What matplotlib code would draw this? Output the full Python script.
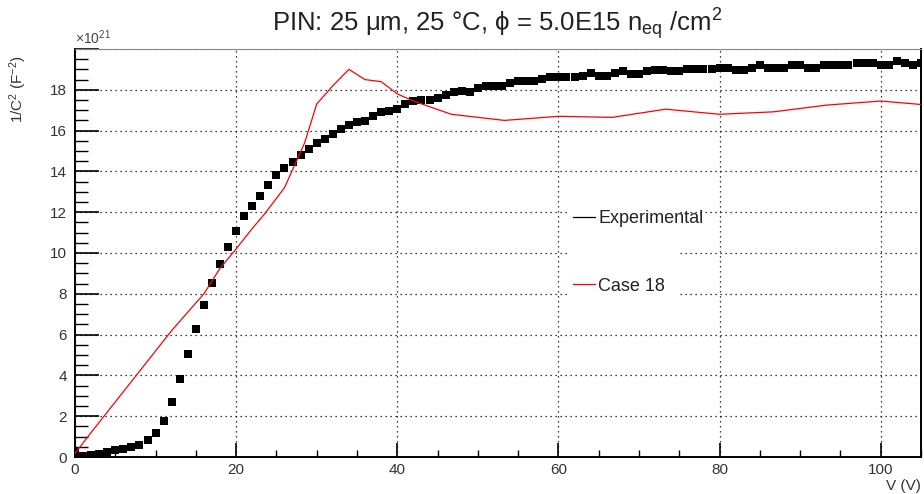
import numpy as np
import matplotlib
matplotlib.use('Agg')
import matplotlib.pyplot as plt
from matplotlib.lines import Line2D
from matplotlib.patches import Rectangle
from matplotlib.ticker import MultipleLocator, FuncFormatter

plt.rcParams['font.family'] = ['Liberation Sans', 'DejaVu Sans']
plt.rcParams['mathtext.fontset'] = 'custom'
plt.rcParams['mathtext.rm'] = 'Liberation Sans'
plt.rcParams['mathtext.it'] = 'Liberation Sans:italic'

# measured points, 1/C^2 in units of 1e21 F^-2
exp_v = np.arange(0, 106)
exp_c = [0.26, 0.05, 0.10, 0.15, 0.23, 0.33, 0.41, 0.49, 0.60, 0.83,
         1.16, 1.77, 2.70, 3.81, 5.05, 6.29, 7.47, 8.55, 9.48, 10.31,
         11.08, 11.80, 12.29, 12.80, 13.31, 13.80, 14.19, 14.48, 14.81, 15.10,
         15.38, 15.61, 15.81, 16.10, 16.28, 16.40, 16.49, 16.72, 16.89, 16.98,
         17.08, 17.30, 17.43, 17.51, 17.51, 17.59, 17.75, 17.87, 17.92, 17.87,
         18.11, 18.20, 18.20, 18.20, 18.33, 18.42, 18.42, 18.42, 18.52, 18.62,
         18.62, 18.62, 18.62, 18.70, 18.82, 18.69, 18.69, 18.82, 18.90, 18.78,
         18.78, 18.90, 18.98, 18.98, 18.90, 18.90, 19.01, 19.01, 19.01, 19.01,
         19.09, 19.09, 18.98, 18.98, 19.09, 19.21, 19.09, 19.09, 19.09, 19.21,
         19.21, 19.09, 19.09, 19.21, 19.21, 19.21, 19.21, 19.30, 19.30, 19.30,
         19.21, 19.21, 19.42, 19.30, 19.21, 19.30]

# simulation "Case 18"
sim_v = [0, 2, 4, 6, 8, 10, 12, 14, 16, 18, 20, 22, 23.5, 26, 28.5, 30,
         32, 34, 36, 38, 40, 42, 46.7, 53.3, 60, 66.7, 73.3, 80, 86.7,
         93.3, 100, 105]
sim_c = [0.18, 1.20, 2.20, 3.20, 4.20, 5.20, 6.20, 7.10, 8.00, 9.25,
         10.20, 11.20, 11.90, 13.20, 15.40, 17.30, 18.20, 19.00, 18.50,
         18.40, 17.80, 17.45, 16.80, 16.50, 16.70, 16.65, 17.05, 16.80,
         16.92, 17.25, 17.45, 17.28]

fig = plt.figure(figsize=(9.24, 4.94), dpi=100)
ax = fig.add_axes([75 / 924, 1 - 457 / 494, 846 / 924, 408 / 494])

ax.plot(exp_v, exp_c, ls='none', marker='s', ms=5.2, mew=0, color='black', zorder=3)
ax.plot(sim_v, sim_c, color='red', lw=0.9, zorder=3)

ax.set_xlim(0, 105)
ax.set_ylim(0, 20)
ax.xaxis.set_major_locator(MultipleLocator(20))
ax.xaxis.set_minor_locator(MultipleLocator(5))
ax.yaxis.set_major_locator(MultipleLocator(2))
ax.yaxis.set_minor_locator(MultipleLocator(0.5))
# no label on the top y tick
ax.yaxis.set_major_formatter(FuncFormatter(lambda v, p: '' if v >= 20 else '%g' % v))
ax.tick_params(axis='both', which='both', direction='in', labelsize=11,
               colors='black', labelcolor='#333333')
ax.tick_params(axis='y', which='major', length=17, width=1.2, pad=6)
ax.tick_params(axis='y', which='minor', length=9, width=1.0)
ax.tick_params(axis='x', which='major', length=10, width=1.2, pad=4)
ax.tick_params(axis='x', which='minor', length=5, width=1.0)
ax.grid(True, which='major', color='black', lw=0.9, ls=(0, (1, 3)))

for s in ['left', 'bottom', 'right']:
    ax.spines[s].set_linewidth(1.4)
ax.spines['top'].set_linewidth(0.8)
ax.spines['top'].set_color('#888888')

# legend background (no border, like ROOT)
ax.add_patch(Rectangle((0.583, 0.33), 0.13, 0.34, transform=ax.transAxes,
                       facecolor='white', edgecolor='none', zorder=2))
handles = [Line2D([], [], color='black', lw=0.9),
           Line2D([], [], color='red', lw=0.9)]
leg = ax.legend(handles, ['Experimental', 'Case 18'], loc='upper left',
                bbox_to_anchor=(0.58, 0.623), frameon=False, fontsize=13,
                handlelength=1.2, handletextpad=0.2, labelspacing=2.8,
                borderaxespad=0)
for t in leg.get_texts():
    t.set_color('#222222')

fig.text(0.538, 0.952,
         'PIN: 25 μm, 25 °C, ϕ = 5.0E15 n$\\mathregular{_{eq}}$ /cm$\\mathregular{^2}$',
         ha='center', va='center', fontsize=18.5, color='#222222')
ax.text(0.0, 1.006, '×10$\\mathregular{^{21}}$', transform=ax.transAxes,
        ha='left', va='bottom', fontsize=10, color='#444444')
ax.text(-0.067, 0.985, '1/C$\\mathregular{^2}$ (F$\\mathregular{^{-2}}$)',
        transform=ax.transAxes, rotation=90, ha='center', va='top',
        fontsize=11, color='#333333')
ax.text(1.0, -0.055, 'V (V)', transform=ax.transAxes, ha='right', va='top',
        fontsize=11, color='#333333')

fig.savefig('out.png', dpi=100)
